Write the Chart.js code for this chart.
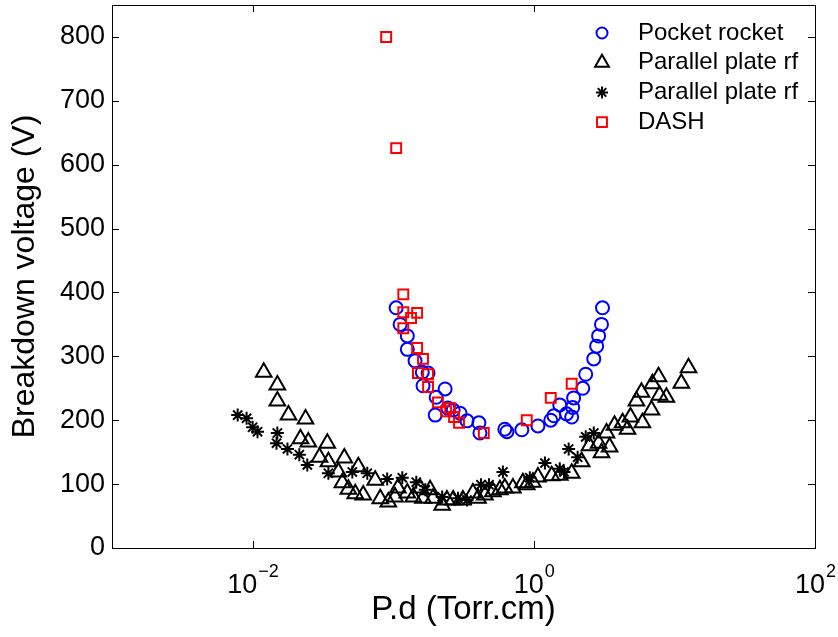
<!DOCTYPE html>
<html>
<head>
<meta charset="utf-8">
<script src="https://cdn.jsdelivr.net/npm/chart.js@4"></script>
<style>
  body { margin: 0; background: #fff; }
</style>
</head>
<body>
<canvas id="chart" width="838" height="637"></canvas>
<script>
// P.d values (Torr.cm) and breakdown voltages (V)
const pocketX = [0.105, 0.112, 0.126, 0.126, 0.143, 0.161, 0.163, 0.177, 0.234, 0.202, 0.199, 0.245, 0.267, 0.299, 0.335, 0.407, 0.414, 0.622, 0.644, 0.822, 1.07, 1.32, 1.39, 1.53, 1.71, 1.86, 1.89, 1.92, 2.23, 2.34, 2.67, 2.80, 2.89, 3.03, 3.08];
const pocketY = [376, 350, 332, 311, 293, 275, 254, 274, 249, 236, 208, 219, 216, 211, 199, 196, 180, 186, 182, 185, 191, 200, 207, 224, 210, 205, 220, 235, 250, 272, 296, 316, 332, 350, 376];

const triX = [0.0120, 0.0150, 0.0150, 0.0180, 0.0238, 0.0219, 0.0249, 0.0340, 0.0299, 0.0346, 0.0449, 0.0407, 0.0565, 0.0435, 0.0480, 0.0537, 0.0612, 0.0745, 0.0809, 0.0923, 0.108, 0.126, 0.139, 0.155, 0.163, 0.192, 0.223, 0.267, 0.313, 0.369, 0.449, 0.512, 0.622, 0.710, 0.836, 0.891, 0.984, 1.07, 1.34, 1.53, 1.86, 2.19, 2.49, 2.89, 3.03, 3.29, 3.46, 3.75, 4.28, 4.64, 4.87, 5.37, 5.83, 5.92, 6.87, 6.98, 7.71, 7.84, 8.77, 11.2, 12.6, 0.103, 0.183, 0.241, 0.401, 0.574];
const triY = [275, 255, 230, 208, 202, 171, 166, 164, 142, 135, 141, 119, 127, 102, 92, 85, 83, 106, 77, 72, 94, 86, 80, 94, 78, 78, 67, 75, 75, 86, 83, 88, 94, 94, 102, 99, 103, 111, 113, 114, 117, 135, 160, 164, 149, 180, 158, 192, 196, 186, 205, 230, 244, 196, 216, 257, 268, 239, 236, 258, 282, 80, 91, 75, 78, 91];

const starX = [0.00783, 0.00906, 0.0100, 0.01084, 0.0150, 0.01479, 0.0177, 0.0215, 0.0245, 0.0346, 0.0512, 0.0654, 0.0906, 0.116, 0.146, 0.223, 0.289, 0.335, 0.421, 0.480, 0.603, 1.20, 1.53, 1.77, 2.05, 2.34, 2.67, 0.937, 1.64, 0.169];
const starY = [208, 203, 189, 182, 180, 164, 155, 146, 130, 117, 119, 117, 108, 110, 103, 80, 78, 75, 99, 99, 119, 133, 124, 155, 142, 174, 180, 110, 119, 91];

const dashX = [0.0891, 0.105, 0.118, 0.118, 0.118, 0.134, 0.148, 0.148, 0.163, 0.150, 0.177, 0.177, 0.208, 0.238, 0.254, 0.271, 0.294, 0.441, 0.891, 1.32, 1.86];
const dashY = [800, 626, 397, 369, 344, 360, 368, 313, 296, 274, 272, 252, 228, 214, 219, 205, 196, 180, 200, 235, 257];

const seriesNames = ['Pocket rocket', 'Parallel plate rf', 'Parallel plate rf', 'DASH'];
const xTickExps = [-2, 0, 2];
const yTicks = [0, 100, 200, 300, 400, 500, 600, 700, 800];

const FONT = '"Liberation Sans", Arial, Helvetica, sans-serif';

function pts(xs, ys) {
  return xs.map((x, i) => ({ x: x, y: ys[i] }));
}

// box with inward ticks + x tick labels as 10^n
const frame = {
  id: 'frame',
  afterDraw(chart) {
    const { ctx, chartArea: a, scales } = chart;
    const x = scales.x, y = scales.y;
    ctx.save();
    ctx.strokeStyle = '#000';
    ctx.lineWidth = 1;
    ctx.strokeRect(a.left + 0.5, a.top + 0.5, a.right - a.left, a.bottom - a.top);
    ctx.beginPath();
    yTicks.forEach(v => {
      const py = Math.round(y.getPixelForValue(v)) + 0.5;
      ctx.moveTo(a.left, py); ctx.lineTo(a.left + 7, py);
      ctx.moveTo(a.right, py); ctx.lineTo(a.right - 7, py);
    });
    xTickExps.forEach(e => {
      const px = Math.round(x.getPixelForValue(Math.pow(10, e))) + 0.5;
      ctx.moveTo(px, a.bottom); ctx.lineTo(px, a.bottom - 7);
      ctx.moveTo(px, a.top); ctx.lineTo(px, a.top + 7);
    });
    ctx.stroke();

    ctx.fillStyle = '#000';
    ctx.textBaseline = 'alphabetic';
    ctx.textAlign = 'left';
    xTickExps.forEach(e => {
      const px = x.getPixelForValue(Math.pow(10, e));
      const sup = e < 0 ? '\u2212' + (-e) : String(e);
      ctx.font = '27px ' + FONT;
      const w1 = ctx.measureText('10').width;
      ctx.font = '18px ' + FONT;
      const w2 = ctx.measureText(sup).width;
      const x0 = px - (w1 + w2) / 2;
      ctx.font = '27px ' + FONT;
      ctx.fillText('10', x0, a.bottom + 45);
      ctx.font = '18px ' + FONT;
      ctx.fillText(sup, x0 + w1 + 1, a.bottom + 29);
    });
    ctx.restore();
  }
};

const legendBox = {
  id: 'legendBox',
  afterDraw(chart) {
    const ctx = chart.ctx;
    ctx.save();
    chart.data.datasets.forEach((ds, i) => {
      const cy = 33 + i * 29.7;
      ctx.strokeStyle = ds.borderColor;
      ctx.fillStyle = 'rgba(0,0,0,0)';
      ctx.lineWidth = ds.pointBorderWidth;
      Chart.helpers.drawPoint(ctx, {
        pointStyle: ds.pointStyle,
        radius: ds.legendRadius,
        borderWidth: ds.pointBorderWidth,
        rotation: 0
      }, 602, cy);
      ctx.fillStyle = '#000';
      ctx.font = '24px ' + FONT;
      ctx.textBaseline = 'middle';
      ctx.textAlign = 'left';
      ctx.fillText(ds.label, 638, cy);
    });
    ctx.restore();
  }
};

const ctx = document.getElementById('chart').getContext('2d');
new Chart(ctx, {
  type: 'scatter',
  data: {
    datasets: [
      { label: seriesNames[0], data: pts(pocketX, pocketY), pointStyle: 'circle', pointRadius: 6.5, legendRadius: 5.5,
        borderColor: '#0000ff', pointBorderColor: '#0000ff', pointBackgroundColor: 'rgba(0,0,0,0)', pointBorderWidth: 2, order: 4 },
      { label: seriesNames[1], data: pts(triX, triY), pointStyle: 'triangle', pointRadius: 9, legendRadius: 8,
        borderColor: '#000', pointBorderColor: '#000', pointBackgroundColor: 'rgba(0,0,0,0)', pointBorderWidth: 2, order: 3 },
      { label: seriesNames[2], data: pts(starX, starY), pointStyle: 'star', pointRadius: 6.5, legendRadius: 6,
        borderColor: '#000', pointBorderColor: '#000', pointBackgroundColor: 'rgba(0,0,0,0)', pointBorderWidth: 2, order: 2 },
      { label: seriesNames[3], data: pts(dashX, dashY), pointStyle: 'rect', pointRadius: 7, legendRadius: 7,
        borderColor: '#ff0000', pointBorderColor: '#ff0000', pointBackgroundColor: 'rgba(0,0,0,0)', pointBorderWidth: 2, order: 1 }
    ]
  },
  options: {
    responsive: false,
    animation: false,
    devicePixelRatio: 1,
    layout: { autoPadding: false, padding: { top: 5, right: 23, left: 0, bottom: 0 } },
    plugins: {
      legend: { display: false },
      tooltip: { enabled: false }
    },
    scales: {
      x: {
        type: 'logarithmic',
        min: 0.001,
        max: 100,
        grid: { display: false, tickLength: 0 },
        border: { display: false },
        ticks: { display: false },
        title: { display: true, text: 'P.d (Torr.cm)', color: '#000', font: { family: FONT, size: 33 }, padding: { top: 0, bottom: 7 } },
        afterFit: s => { s.height = 89; s.paddingLeft = 0; s.paddingRight = 0; }
      },
      y: {
        min: 0,
        max: 850,
        grid: { display: false, tickLength: 0 },
        border: { display: false },
        ticks: { stepSize: 100, color: '#000', padding: 7, font: { family: FONT, size: 27 } },
        afterBuildTicks: s => { s.ticks = s.ticks.filter(t => t.value <= 800); },
        title: { display: true, text: 'Breakdown voltage (V)', color: '#000', font: { family: FONT, size: 32 }, padding: { top: 6, bottom: 0 } },
        afterFit: s => { s.width = 112; s.paddingTop = 0; s.paddingBottom = 0; }
      }
    }
  },
  plugins: [frame, legendBox]
});
</script>
</body>
</html>
